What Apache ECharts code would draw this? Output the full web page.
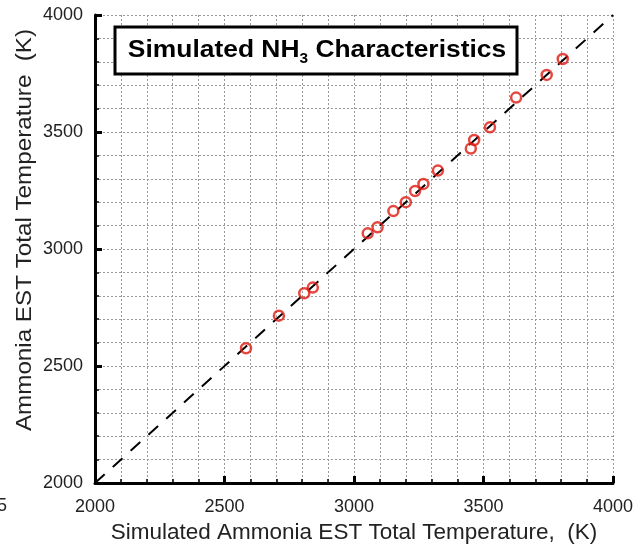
<!DOCTYPE html>
<html>
<head>
<meta charset="utf-8">
<script src="https://cdn.jsdelivr.net/npm/echarts@6/dist/echarts.min.js"></script>
<style>
  html, body { margin: 0; padding: 0; background: #fff; }
  #chart { width: 643px; height: 546px; }
</style>
</head>
<body>
<div id="chart"></div>
<script>
// simulated vs EST temperature
var simTemp = [2583, 2710, 2808, 2841, 3053, 3091, 3152, 3200, 3236, 3268, 3324, 3451, 3464, 3525, 3626, 3744, 3806]
var estTemp = [2576, 2715, 2811, 2835, 3067, 3093, 3162, 3200, 3248, 3278, 3335, 3429, 3466, 3520, 3647, 3744, 3812]
// y = x reference line
var refLine = [2000, 4000]

var chart = echarts.init(document.getElementById('chart'))

var font = 'Liberation Sans, Arial, sans-serif'

function axisOpts (labelMargin) {
  return {
    type: 'value',
    min: 2000,
    max: 4000,
    interval: 500,
    axisLine: { lineStyle: { color: '#000', width: 3 } },
    axisTick: { inside: true, length: 7, lineStyle: { color: '#000', width: 3 } },
    minorTick: { show: true, splitNumber: 5, length: 4, lineStyle: { color: '#000', width: 1.5 } },
    axisLabel: {
      fontFamily: font,
      fontSize: 18,
      color: '#222',
      margin: labelMargin,
      formatter: function (v) { return String(v) }
    },
    splitLine: { show: true, lineStyle: { color: '#999', type: [2, 2], width: 1 } },
    minorSplitLine: { show: true, lineStyle: { color: '#999', type: [2, 2], width: 1 } }
  }
}

var xAxis = axisOpts(15)
xAxis.name = 'Simulated Ammonia EST Total Temperature,  (K)'
xAxis.nameLocation = 'middle'
xAxis.nameGap = 32
xAxis.nameTextStyle = { fontFamily: font, fontSize: 22.5, color: '#222' }
var yAxis = axisOpts(12)

var points = simTemp.map(function (v, i) { return [v, estTemp[i]] })

var options = {
  animation: false,
  grid: { left: 95, right: 30, top: 15, bottom: 63, outerBoundsMode: 'none', containLabel: false },
  xAxis: xAxis,
  yAxis: yAxis,
  series: [
    {
      type: 'line',
      data: [[refLine[0], refLine[0]], [refLine[1], refLine[1]]],
      symbol: 'none',
      lineStyle: { color: '#000', width: 2, type: [13, 11] },
      z: 2
    },
    {
      type: 'scatter',
      data: points,
      symbol: 'circle',
      symbolSize: 10,
      itemStyle: { color: 'transparent', borderColor: '#dd1a10', borderWidth: 2.5 },
      z: 3
    }
  ],
  graphic: [
    {
      // y axis title
      type: 'text',
      x: 25,
      y: 230,
      rotation: Math.PI / 2,
      scaleX: 1.1,
      style: {
        text: 'Ammonia EST Total Temperature  (K)',
        fontFamily: font,
        fontSize: 22,
        fill: '#222',
        align: 'center',
        verticalAlign: 'middle'
      }
    },
    {
      type: 'rect',
      shape: { x: 115, y: 27, width: 402, height: 47 },
      style: { fill: '#fff', stroke: '#000', lineWidth: 3 },
      z: 10
    },
    {
      type: 'text',
      x: 317,
      y: 50,
      scaleX: 1.1,
      style: {
        text: '{b|Simulated NH}{s|3}{b| Characteristics}',
        align: 'center',
        verticalAlign: 'middle',
        rich: {
          b: { fontFamily: font, fontSize: 24, fontWeight: 'bold', fill: '#000' },
          s: { fontFamily: font, fontSize: 14, fontWeight: 'bold', fill: '#000', padding: [18, 0, 0, 0] }
        }
      },
      z: 11
    },
    {
      type: 'text',
      x: -3,
      y: 497,
      style: { text: '5', fontFamily: font, fontSize: 18, fill: '#222' }
    }
  ]
}

chart.setOption(options)
</script>
</body>
</html>
